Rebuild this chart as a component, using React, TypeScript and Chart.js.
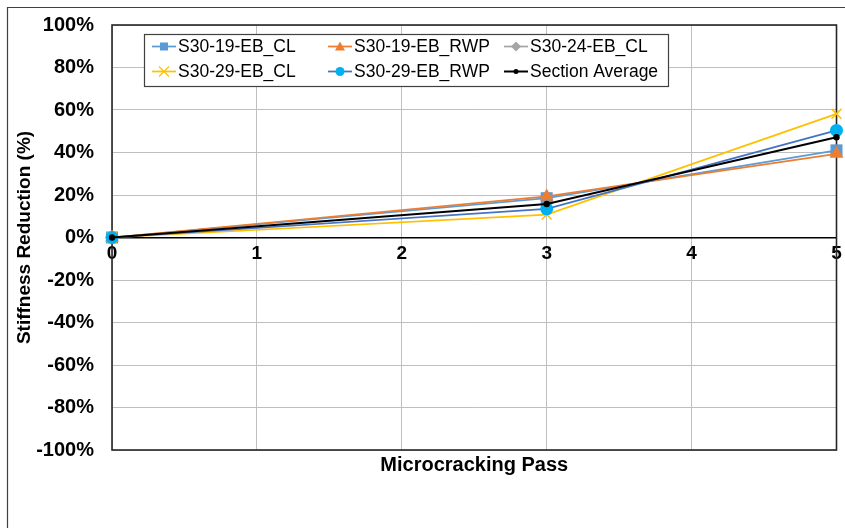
import React, { useEffect, useRef } from 'react';
import { Chart, registerables } from 'chart.js';

Chart.register(...registerables);

// ---- data ----
const passes = [0, 3, 5];
const seriesNames = [
  'S30-19-EB_CL',
  'S30-19-EB_RWP',
  'S30-24-EB_CL',
  'S30-29-EB_CL',
  'S30-29-EB_RWP',
  'Section Average',
];
const s30_19_EB_CL = [0, 18.5, 41.0];
const s30_19_EB_RWP = [0, 19.3, 39.4];
const s30_24_EB_CL: (number | null)[] = [0, null, null];
const s30_29_EB_CL = [0, 10.8, 58.2];
const s30_29_EB_RWP = [0, 13.5, 50.4];
const sectionAverage = [0, 15.8, 47.2];
const seriesValues = [s30_19_EB_CL, s30_19_EB_RWP, s30_24_EB_CL, s30_29_EB_CL, s30_29_EB_RWP, sectionAverage];

const xMin = 0;
const xMax = 5;
const yMin = -100;
const yMax = 100;
const yStep = 20;

const xTitle = 'Microcracking Pass';
const yTitle = 'Stiffness Reduction (%)';

// ---- styles ----
const FONT = "'Liberation Sans', Arial, sans-serif";
const lineColors = ['#5B9BD5', '#ED7D31', '#A5A5A5', '#FFC000', '#4472C4', '#000000'];
const markerColors = ['#5B9BD5', '#ED7D31', '#A5A5A5', '#FFC000', '#00B0F0', '#000000'];
const markerStyles = ['rect', 'triangle', 'rectRot', 'crossRot', 'circle', 'circle'];
const markerRadius = [8.5, 8, 7, 7, 6.5, 3.2];
const lineWidths = [1.75, 1.75, 1.75, 1.75, 1.75, 2];

function drawLegendMarker(ctx: CanvasRenderingContext2D, style: string, x: number, y: number, color: string, small: boolean) {
  ctx.fillStyle = color;
  ctx.strokeStyle = color;
  ctx.beginPath();
  if (style === 'rect') {
    ctx.fillRect(x - 4, y - 4, 8, 8);
  } else if (style === 'triangle') {
    ctx.moveTo(x, y - 5);
    ctx.lineTo(x + 5, y + 4);
    ctx.lineTo(x - 5, y + 4);
    ctx.closePath();
    ctx.fill();
  } else if (style === 'rectRot') {
    ctx.moveTo(x, y - 5);
    ctx.lineTo(x + 5, y);
    ctx.lineTo(x, y + 5);
    ctx.lineTo(x - 5, y);
    ctx.closePath();
    ctx.fill();
  } else if (style === 'crossRot') {
    ctx.lineWidth = 1.2;
    ctx.moveTo(x - 5, y - 5);
    ctx.lineTo(x + 5, y + 5);
    ctx.moveTo(x + 5, y - 5);
    ctx.lineTo(x - 5, y + 5);
    ctx.stroke();
  } else {
    ctx.arc(x, y, small ? 2.5 : 4.5, 0, Math.PI * 2);
    ctx.fill();
  }
}

const framePlugin = {
  id: 'frame',
  beforeDraw(chart: any) {
    const ctx = chart.ctx as CanvasRenderingContext2D;
    ctx.save();
    ctx.fillStyle = '#ffffff';
    ctx.fillRect(0, 0, chart.width, chart.height);
    ctx.strokeStyle = '#404040';
    ctx.lineWidth = 1.2;
    ctx.beginPath();
    ctx.moveTo(7.5, chart.height);
    ctx.lineTo(7.5, 7.5);
    ctx.lineTo(chart.width, 7.5);
    ctx.stroke();
    ctx.restore();
  },
  beforeDatasetsDraw(chart: any) {
    const { left, right, top, bottom } = chart.chartArea;
    const ctx = chart.ctx as CanvasRenderingContext2D;
    ctx.save();
    ctx.strokeStyle = '#262626';
    ctx.lineWidth = 1.6;
    ctx.strokeRect(left, top, right - left, bottom - top);
    ctx.restore();
  },
  afterDraw(chart: any) {
    const ctx = chart.ctx as CanvasRenderingContext2D;
    const { left, top } = chart.chartArea;
    const bx = left + 32;
    const by = top + 9;
    const bw = 524;
    const bh = 52;
    ctx.save();
    ctx.fillStyle = '#ffffff';
    ctx.fillRect(bx, by, bw, bh);
    ctx.strokeStyle = '#404040';
    ctx.lineWidth = 1.2;
    ctx.strokeRect(bx + 0.5, by + 0.5, bw, bh);
    ctx.font = `17.5px ${FONT}`;
    ctx.textBaseline = 'middle';
    ctx.textAlign = 'left';
    chart.data.datasets.forEach((ds: any, i: number) => {
      const col = i % 3;
      const row = Math.floor(i / 3);
      const lx = bx + 8 + col * 176;
      const ly = by + 12.5 + row * 25;
      ctx.strokeStyle = lineColors[i];
      ctx.lineWidth = lineWidths[i];
      ctx.beginPath();
      ctx.moveTo(lx, ly);
      ctx.lineTo(lx + 24, ly);
      ctx.stroke();
      drawLegendMarker(ctx, markerStyles[i], lx + 12, ly, markerColors[i], i === 5);
      ctx.fillStyle = '#000000';
      ctx.fillText(ds.label, lx + 26, ly + 1);
    });
    ctx.restore();
  },
};

const zeroPad = (s: any) => {
  s.paddingTop = 0;
  s.paddingBottom = 0;
  s.paddingLeft = 0;
  s.paddingRight = 0;
};

export default function App() {
  const ref = useRef<HTMLCanvasElement | null>(null);

  useEffect(() => {
    if (!ref.current) return;
    const datasets = seriesNames.map((name, i) => ({
      label: name,
      data: passes.map((p, j) => ({ x: p, y: seriesValues[i][j] })),
      borderColor: lineColors[i],
      backgroundColor: markerColors[i],
      pointBackgroundColor: markerColors[i],
      pointBorderColor: markerColors[i],
      pointBorderWidth: markerStyles[i] === 'crossRot' ? 1.5 : 0,
      pointStyle: markerStyles[i],
      pointRadius: markerRadius[i],
      borderWidth: lineWidths[i],
      showLine: true,
      fill: false,
      tension: 0,
      clip: false,
      order: seriesNames.length - 1 - i,
    }));

    const chart = new Chart(ref.current, {
      type: 'scatter',
      data: { datasets },
      plugins: [framePlugin],
      options: {
        animation: false,
        responsive: false,
        maintainAspectRatio: false,
        layout: { padding: { top: 25, right: 8, left: 0, bottom: 0 } },
        plugins: {
          legend: { display: false },
          tooltip: { enabled: false },
        },
        scales: {
          x: {
            type: 'linear',
            position: 'bottom',
            min: xMin,
            max: xMax,
            ticks: { display: false, stepSize: 1 },
            grid: { color: '#bfbfbf', lineWidth: 1, drawTicks: false },
            border: { display: false },
            title: {
              display: true,
              text: xTitle,
              color: '#000',
              font: { family: FONT, size: 20, weight: 'bold' },
              padding: { top: 0, bottom: 51 },
            },
            afterFit: (s: any) => { s.height = 78; zeroPad(s); },
          },
          x2: {
            type: 'linear',
            position: { y: 0 },
            min: xMin,
            max: xMax,
            ticks: {
              stepSize: 1,
              color: '#000',
              padding: 5,
              font: { family: FONT, size: 19, weight: 'bold' },
            },
            grid: { display: false, drawTicks: false },
            border: { display: false },
            afterFit: (s: any) => { s.height = 0; zeroPad(s); },
          },
          y: {
            type: 'linear',
            min: yMin,
            max: yMax,
            ticks: {
              stepSize: yStep,
              color: '#000',
              padding: 18,
              font: { family: FONT, size: 20, weight: 'bold' },
              callback: (v: any) => `${v}%`,
            },
            grid: {
              drawTicks: false,
              color: (c: any) => (c.tick && c.tick.value === 0 ? '#000000' : '#bfbfbf'),
              lineWidth: (c: any) => (c.tick && c.tick.value === 0 ? 1.6 : 1),
            },
            border: { display: false },
            title: {
              display: true,
              text: yTitle,
              color: '#000',
              font: { family: FONT, size: 19, weight: 'bold' },
              padding: { top: 13, bottom: 0 },
            },
            afterFit: (s: any) => { s.width = 112; zeroPad(s); },
          },
        },
      } as any,
    });
    return () => chart.destroy();
  }, []);

  return (
    <div style={{ position: 'fixed', left: 0, top: 0, width: 845, height: 528, background: '#fff' }}>
      <canvas ref={ref} width={845} height={528} />
    </div>
  );
}
